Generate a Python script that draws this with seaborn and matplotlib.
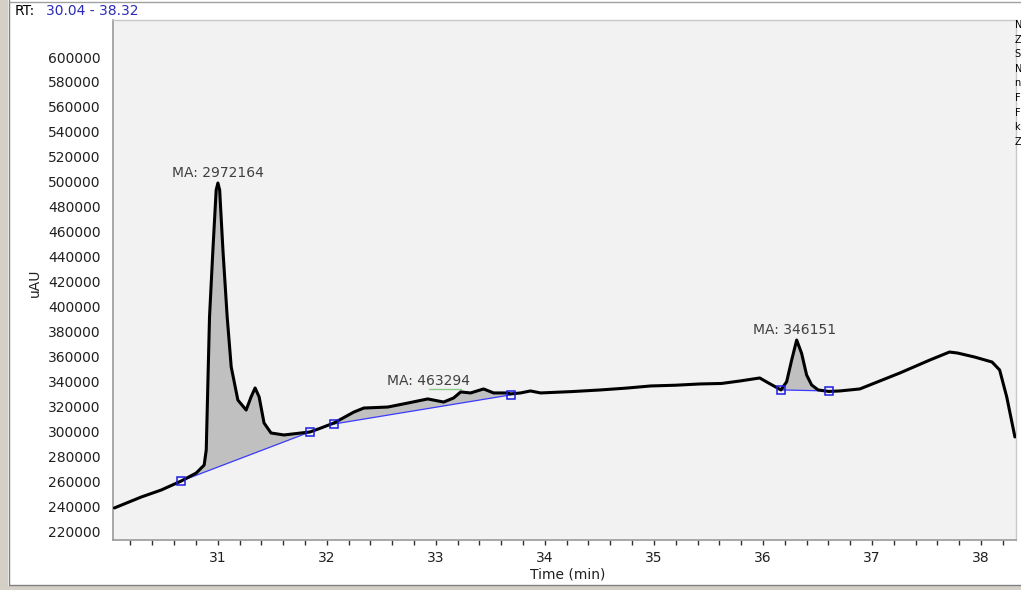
import numpy as np
import pandas as pd
import matplotlib
matplotlib.use("Agg")
import matplotlib.pyplot as plt
import seaborn as sns
from matplotlib.ticker import MultipleLocator
from matplotlib.patches import Rectangle
from matplotlib.lines import Line2D

# ---- data ----
time_min = [30.053, 30.30, 30.483, 30.666, 30.803, 30.876, 30.895, 30.910, 30.925, 30.956,
            30.986, 31.002, 31.018, 31.048, 31.087, 31.124, 31.185, 31.261, 31.306, 31.343,
            31.380, 31.425, 31.489, 31.608, 31.764, 31.846, 31.947, 32.066, 32.249, 32.340,
            32.560, 32.743, 32.926, 33.072, 33.164, 33.228, 33.319, 33.438, 33.530, 33.658,
            33.685, 33.777, 33.868, 33.960, 34.25, 34.51, 34.75, 34.97, 35.20, 35.42,
            35.62, 35.79, 35.97, 36.05,
            36.165, 36.217, 36.263, 36.309, 36.354, 36.400, 36.446, 36.506, 36.604, 36.705,
            36.888, 37.255, 37.53, 37.71, 37.784, 37.94, 38.10, 38.17, 38.235, 38.31]
signal_uau = [238500, 247300, 252900, 260100, 266500, 272900, 285000, 338700, 391600, 445300,
              493400, 499000, 493400, 445300, 391600, 351500, 325000, 317000, 327500, 334700,
              327500, 306600, 298600, 297000, 298600, 299400, 302600, 306600, 315400, 318600,
              319400, 322600, 325900, 323400, 326700, 331500, 330700, 333900, 330700, 330700,
              329900, 330700, 332300, 330700, 331800, 333100, 334600, 336300, 336900, 337900,
              338300, 340300, 342700, 338700,
              333100, 339700, 357100, 373100, 362500, 345100, 337100, 333100, 331900, 332300,
              333900, 346700, 357100, 363500, 362700, 359500, 355500, 349100, 327500, 295400]

peak_start = [30.666, 32.066, 36.165]
peak_end = [31.846, 33.685, 36.604]
base_start = [260100, 305800, 333100]
base_end = [299400, 329100, 332300]
peak_labels = ["MA: 2972164", "MA: 463294", "MA: 346151"]
label_x = [31.0, 32.93, 36.29]
label_y = [501500, 334500, 375500]

apex_mark_x = [32.935, 33.228]
apex_mark_y = [333900, 333900]

x_ticks = [31, 32, 33, 34, 35, 36, 37, 38]
y_ticks = list(range(220000, 600001, 20000))
side_text = ["N", "Z", "S", "N", "n", "F", "F", "k", "Z"]

# ---- figure ----
sns.set_style("white")
plt.rcParams['font.family'] = ['DejaVu Sans']

fig = plt.figure(figsize=(10.21, 5.90), dpi=100)
fig.patch.set_facecolor("white")
ax = fig.add_axes([113 / 1021, 1 - 540 / 590, 903 / 1021, 520 / 590])
ax.set_facecolor("#f2f2f2")

df = pd.DataFrame({"Time (min)": time_min, "uAU": signal_uau})

# peak fills, baselines and baseline markers
for s, e, b0, b1 in zip(peak_start, peak_end, base_start, base_end):
    seg = df[(df["Time (min)"] >= s - 1e-9) & (df["Time (min)"] <= e + 1e-9)]
    xs = [s] + list(seg["Time (min)"]) + [e]
    ys = [b0] + list(seg["uAU"]) + [b1]
    ax.fill(xs, ys, color="#c0c0c0", lw=0, zorder=1)
    ax.plot([s, e], [b0, b1], color="#3a3aff", lw=0.9, zorder=2)
    ax.plot([s, e], [b0, b1], ls="none", marker="s", ms=6, mfc="none",
            mec="#1c1ce0", mew=1.1, zorder=4)

sns.lineplot(data=df, x="Time (min)", y="uAU", color="black", linewidth=2.2,
             estimator=None, sort=False, ax=ax, zorder=3)

ax.plot(apex_mark_x, apex_mark_y, color="#88cc88", lw=1, zorder=2)

for t, lx, ly in zip(peak_labels, label_x, label_y):
    ax.text(lx, ly, t, ha="center", va="bottom", fontsize=10, color="#404040", zorder=5)

ax.set_xlim(30.04, 38.32)
ax.set_ylim(212800, 629700)

ax.xaxis.set_minor_locator(MultipleLocator(0.05))
ax.yaxis.set_minor_locator(MultipleLocator(5000))
ax.set_yticks(y_ticks)
ax.set_yticklabels([str(v) for v in y_ticks])
ax.set_xticks(x_ticks)
ax.set_xticklabels([str(v) for v in x_ticks])

ax.tick_params(axis="x", which="major", direction="out", length=6, width=1,
               color="#303030", labelsize=10, labelcolor="#202020", pad=2)
ax.tick_params(axis="x", which="minor", direction="out", length=1.5, width=0.8,
               color="#303030")
ax.tick_params(axis="y", which="major", direction="out", length=8.5, width=1,
               color="#303030", labelsize=10, labelcolor="#202020", pad=0.5)
ax.tick_params(axis="y", which="minor", direction="out", length=4.3, width=1,
               color="#303030")

# medium ticks every 0.2 min
sec = ax.secondary_xaxis("bottom")
sec.xaxis.set_major_locator(MultipleLocator(0.2))
sec.tick_params(axis="x", which="major", direction="out", length=3.5, width=1,
                color="#303030", labelbottom=False)
sec.spines["bottom"].set_visible(False)

ax.set_xlabel("Time (min)", fontsize=10, color="#202020")
ax.set_ylabel("uAU", fontsize=10, color="#202020")
ax.xaxis.set_label_coords(0.503, -0.052)
ax.yaxis.set_label_coords(-0.0786, 0.494)

for side in ["left", "bottom"]:
    ax.spines[side].set_color("#9a9a9a")
    ax.spines[side].set_linewidth(1.2)
for side in ["top", "right"]:
    ax.spines[side].set_color("#c8c8c8")
    ax.spines[side].set_linewidth(1.0)

# window frame
W, H = 1021, 590
fig.add_artist(Rectangle((0, 0), 8 / W, 1, transform=fig.transFigure,
                         color="#d4d0c8", lw=0, zorder=0))
fig.add_artist(Rectangle((0, 0), 1, 4 / H, transform=fig.transFigure,
                         color="#d4d0c8", lw=0, zorder=0))
fig.add_artist(Line2D([9 / W, 9 / W], [5 / H, 1], transform=fig.transFigure,
                      color="#808080", lw=1))
fig.add_artist(Line2D([9 / W, 1], [5 / H, 5 / H], transform=fig.transFigure,
                      color="#808080", lw=1))
fig.add_artist(Line2D([9 / W, 1], [1 - 1.5 / H, 1 - 1.5 / H], transform=fig.transFigure,
                      color="#a0a0a0", lw=1))

fig.text(15 / W, 1 - 11 / H, "RT:", fontsize=10, color="black", va="center", ha="left")
fig.text(46 / W, 1 - 11 / H, "30.04 - 38.32", fontsize=10, color="#2a2ab8",
         va="center", ha="left")

for i, s in enumerate(side_text):
    fig.text(1014.5 / W, 1 - (25 + 14.6 * i) / H, s, fontsize=7, color="black",
             va="center", ha="left")

fig.savefig("out.png", dpi=100)
